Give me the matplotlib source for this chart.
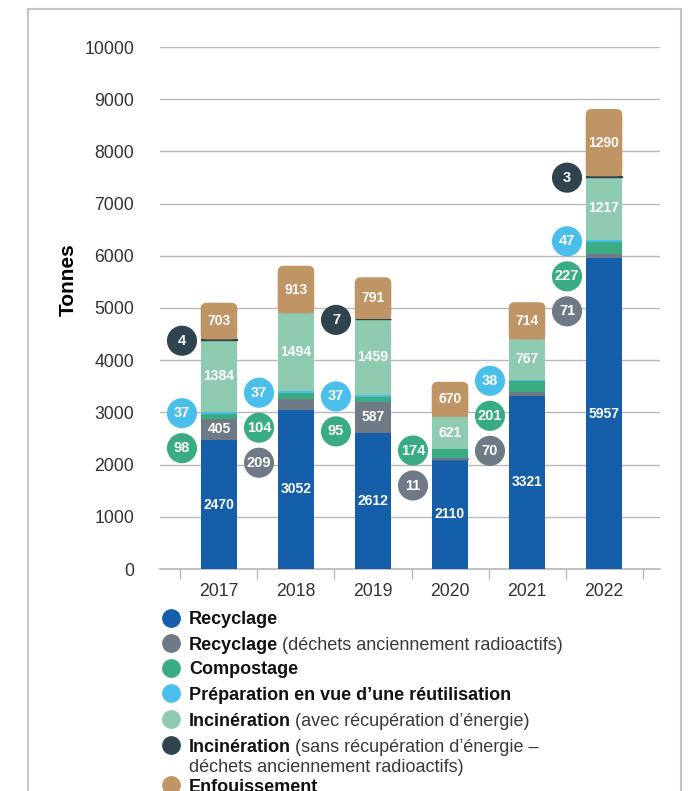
import numpy as np
import matplotlib
matplotlib.use("Agg")
import matplotlib.pyplot as plt
from matplotlib.patches import FancyBboxPatch, Rectangle
from matplotlib.lines import Line2D

plt.rcParams['font.family'] = ['Liberation Sans', 'DejaVu Sans']

# Tonnes de déchets par filière et par année
years = ['2017', '2018', '2019', '2020', '2021', '2022']
recyclage = [2470, 3052, 2612, 2110, 3321, 5957]
recyclage_radio = [405, 209, 587, 11, 70, 71]
compostage = [98, 104, 95, 174, 201, 227]
reutilisation = [37, 37, 37, 0, 38, 47]
incin_avec = [1384, 1494, 1459, 621, 767, 1217]
incin_sans = [4, 0, 7, 0, 0, 3]
enfouissement = [703, 913, 791, 670, 714, 1290]

series = [recyclage, recyclage_radio, compostage, reutilisation,
          incin_avec, incin_sans, enfouissement]
colors = ['#155eaa', '#6f7a86', '#3aac84', '#4bbfeb',
          '#8ecbb0', '#2f444e', '#c09565']

legend_bold = ['Recyclage', 'Recyclage', 'Compostage',
               'Préparation en vue d’une réutilisation', 'Incinération',
               'Incinération', 'Enfouissement']
legend_rest = ['', '(déchets anciennement radioactifs)', '', '',
               '(avec récupération d’énergie)',
               '(sans récupération d’énergie –\ndéchets anciennement radioactifs)', '']

fig = plt.figure(figsize=(6.91, 7.91), dpi=100)
W, H = 691, 791
ax = fig.add_axes([160 / W, 1 - 569 / H, 500 / W, 522 / H])

x = np.arange(len(years))
xmin, xmax = -0.766, 5.727
ax.set_xlim(xmin, xmax)
ax.set_ylim(0, 10000)

# grille et axes
ax.set_yticks(np.arange(0, 10001, 1000))
ax.grid(axis='y', color='#b8b8b8', linewidth=1, zorder=0)
ax.set_axisbelow(True)
for s in ax.spines.values():
    s.set_visible(False)
ax.tick_params(axis='y', length=0, pad=18.5, labelsize=12.7, labelcolor='#333333')
ax.set_xticks(x)
ax.set_xticklabels(years)
ax.tick_params(axis='x', which='major', length=0, pad=10, labelsize=12.7, labelcolor='#333333')
ax.set_xticks(np.arange(-0.5, len(years)), minor=True)
ax.tick_params(axis='x', which='minor', length=7.5, width=1, color='#b8b8b8')

width = 0.475
# échelle pixels <-> données pour les coins arrondis
p0 = ax.transData.transform((0, 0))
p1 = ax.transData.transform((1, 1000))
xu_per_px = 1 / (p1[0] - p0[0])
yu_per_px = 1000 / (p1[1] - p0[1])
radius = 6 * xu_per_px

gap = 35 * yu_per_px
circle_dx = 37 * xu_per_px

for i in range(len(years)):
    bottom = 0
    top_idx = max(k for k in range(len(series)) if series[k][i] > 0)
    circles = []
    for k, vals in enumerate(series):
        v = vals[i]
        if v <= 0:
            continue
        if k == top_idx:
            patch = FancyBboxPatch((i - width / 2, bottom), width, v,
                                   boxstyle=f"round,pad=0,rounding_size={radius}",
                                   mutation_aspect=yu_per_px / xu_per_px,
                                   facecolor=colors[k], edgecolor='none', zorder=3)
            ax.add_patch(patch)
            ax.bar(i, v / 2, width, bottom=bottom, color=colors[k], zorder=3)
        else:
            lw = 1.0 if v < 20 else 0
            ax.bar(i, v, width, bottom=bottom, color=colors[k], zorder=3,
                   edgecolor=colors[k], linewidth=lw)
        if v < 300:
            # pastille calée juste sous le haut du segment
            circles.append((bottom + v - 25, v, k))
        else:
            ax.text(i, bottom + v / 2, f"{v}", ha='center', va='center', color='white',
                    fontsize=10, fontweight='bold', zorder=5)
        bottom += v

    # étiquettes rondes à gauche de la barre, empilées sans chevauchement
    prev = None
    for anchor, v, k in sorted(circles, key=lambda c: -c[0]):
        y = anchor if prev is None else min(anchor, prev - gap)
        prev = y
        ax.scatter(i - circle_dx, y, s=470, color=colors[k], zorder=4,
                   clip_on=False, edgecolor='none')
        ax.text(i - circle_dx, y, f"{v}", ha='center', va='center', color='white',
                fontsize=10.5, fontweight='bold', zorder=5)

# ligne de base
ax.plot([xmin, xmax], [0, 0], color='#b8b8b8', linewidth=1.2, zorder=2, clip_on=False)

fig.text(68 / W, 1 - 280 / H, 'Tonnes', rotation=90, ha='center', va='center',
         fontsize=15, fontweight='bold')

# légende
rows_y = [618, 643, 668, 693, 719, 745, 785]
for k in range(len(series)):
    yf = 1 - rows_y[k] / H
    yt = yf - 2 / H
    fig.add_artist(Line2D([171 / W], [yf], marker='o', markersize=12.5,
                          color=colors[k], transform=fig.transFigure))
    tb = fig.text(189 / W, yt, legend_bold[k], ha='left', va='center',
                  fontsize=13, fontweight='bold', color='#111111')
    if legend_rest[k]:
        lines = legend_rest[k].split('\n')
        fig.canvas.draw()
        bb = tb.get_window_extent()
        fig.text((bb.x1 + 4) / W, yt, lines[0], ha='left', va='center',
                 fontsize=13, color='#3a3a3a')
        for j, extra in enumerate(lines[1:], 1):
            fig.text(189 / W, yt - 20 * j / H, extra, ha='left', va='center',
                     fontsize=13, color='#3a3a3a')

# cadre
fig.add_artist(Rectangle((28 / W, -0.05), (681 - 28) / W, 1.05 - 9 / H,
                         transform=fig.transFigure, fill=False,
                         edgecolor='#c8c4be', linewidth=1.5))

fig.savefig('out.png', dpi=100)
